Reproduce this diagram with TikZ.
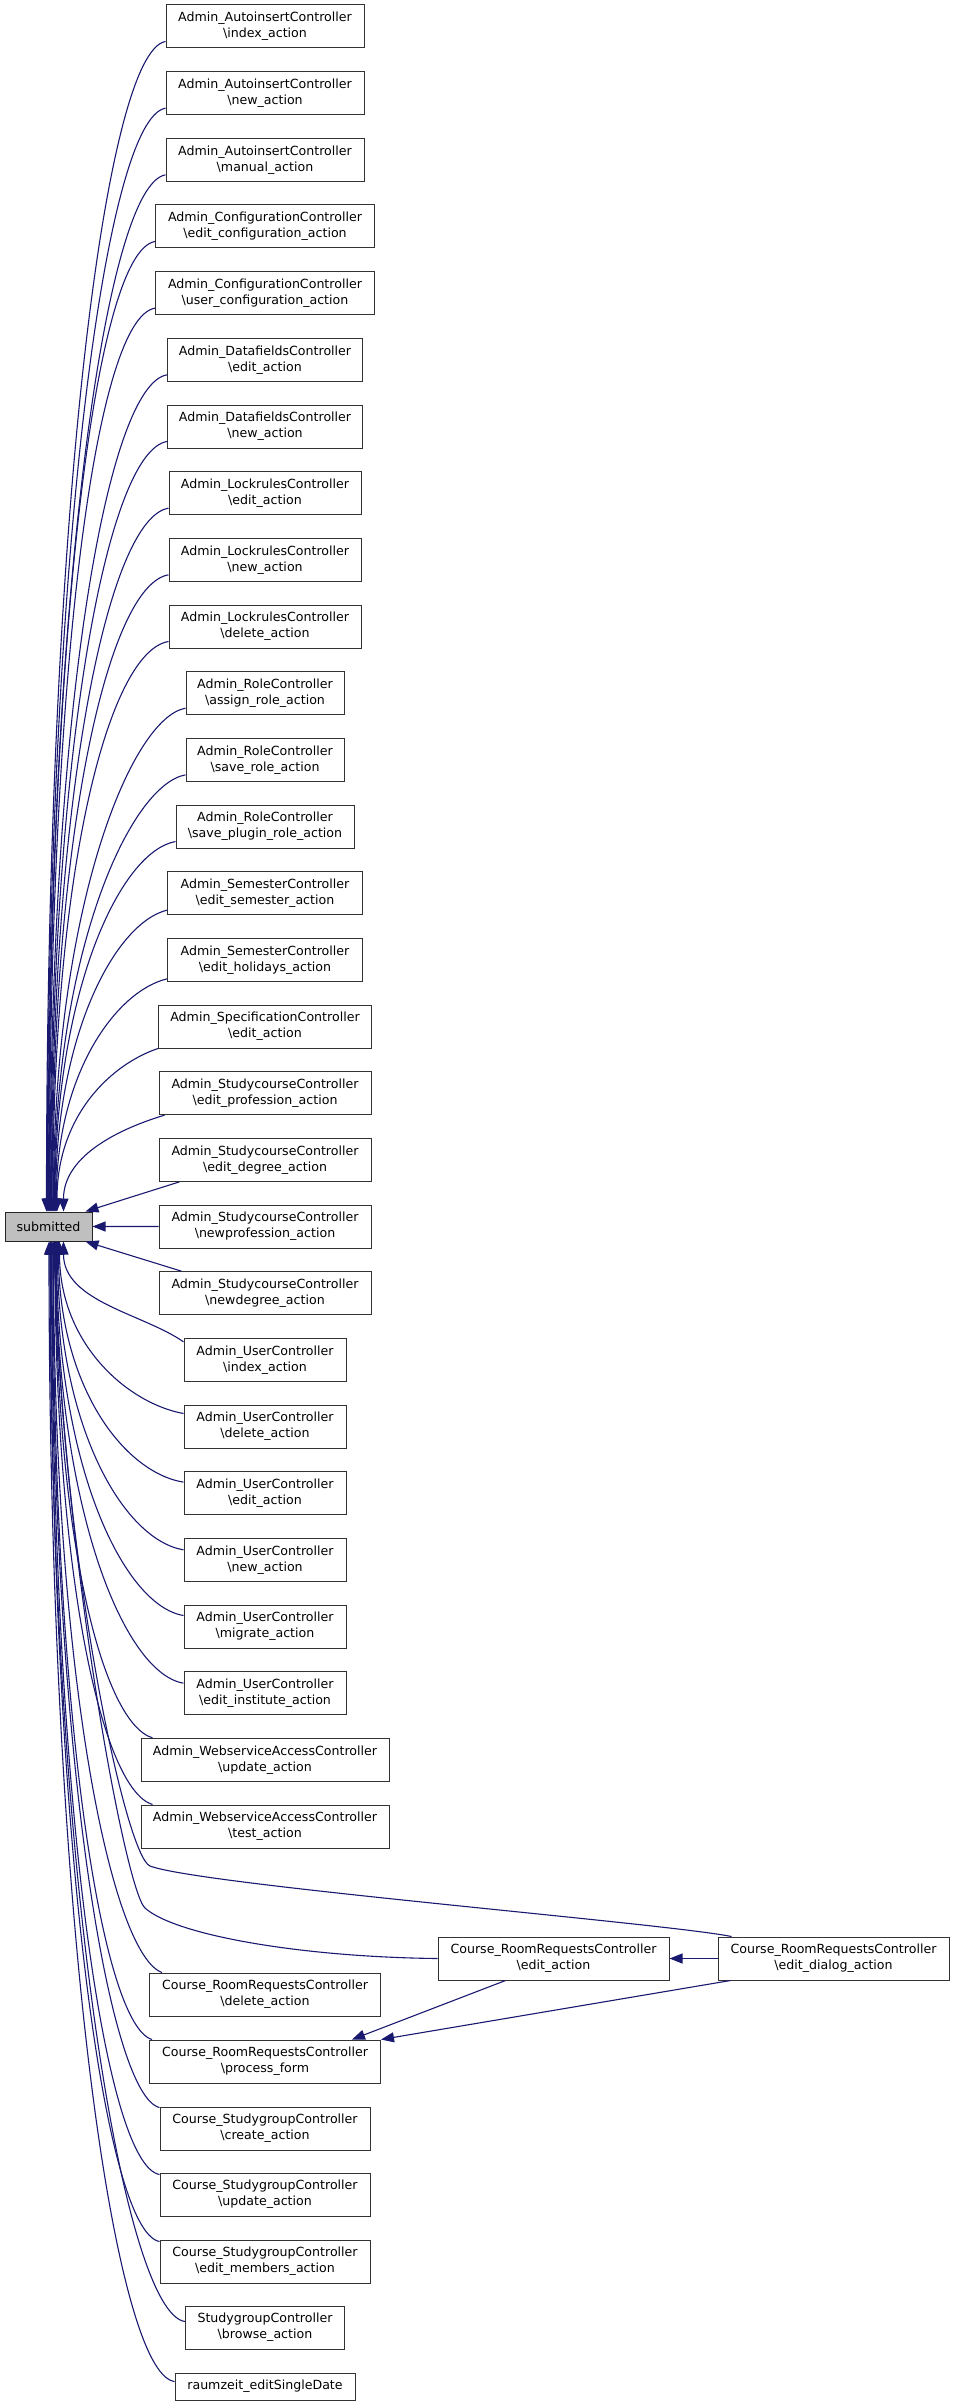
\documentclass[tikz,border=0pt]{standalone}
\usepackage{fontspec}
\setmainfont{DejaVu Sans}
\usetikzlibrary{arrows.meta,calc}
\definecolor{edgecol}{RGB}{25,25,112}
\definecolor{subfill}{RGB}{191,191,191}
\begin{document}
\begin{tikzpicture}[x=1pt,y=-1pt,
  box/.style={draw=black!80, line width=1pt, fill=white, align=center, inner xsep=11pt, inner ysep=0pt, minimum height=43pt, font=\fontsize{12.6}{16}\selectfont},
  edge/.style={draw=edgecol, line width=1.1pt, -{Triangle[length=13pt,width=10pt]}}]
\useasboundingbox (0,0) rectangle (955,2405);

\node[box, minimum height=29pt, minimum width=87pt, fill=subfill, draw=black!85] (sub) at (48.5,1226.5) {submitted};

\foreach \i/\w/\txt in {
 1/198/{Admin\_AutoinsertController\\\textbackslash index\_action},
 2/198/{Admin\_AutoinsertController\\\textbackslash new\_action},
 3/198/{Admin\_AutoinsertController\\\textbackslash manual\_action},
 4/219/{Admin\_ConfigurationController\\\textbackslash edit\_configuration\_action},
 5/219/{Admin\_ConfigurationController\\\textbackslash user\_configuration\_action},
 6/195/{Admin\_DatafieldsController\\\textbackslash edit\_action},
 7/195/{Admin\_DatafieldsController\\\textbackslash new\_action},
 8/192/{Admin\_LockrulesController\\\textbackslash edit\_action},
 9/192/{Admin\_LockrulesController\\\textbackslash new\_action},
 10/192/{Admin\_LockrulesController\\\textbackslash delete\_action},
 11/158/{Admin\_RoleController\\\textbackslash assign\_role\_action},
 12/158/{Admin\_RoleController\\\textbackslash save\_role\_action},
 13/178/{Admin\_RoleController\\\textbackslash save\_plugin\_role\_action},
 14/195/{Admin\_SemesterController\\\textbackslash edit\_semester\_action},
 15/195/{Admin\_SemesterController\\\textbackslash edit\_holidays\_action},
 16/213/{Admin\_SpecificationController\\\textbackslash edit\_action},
 17/212/{Admin\_StudycourseController\\\textbackslash edit\_profession\_action},
 18/212/{Admin\_StudycourseController\\\textbackslash edit\_degree\_action},
 19/212/{Admin\_StudycourseController\\\textbackslash newprofession\_action},
 20/212/{Admin\_StudycourseController\\\textbackslash newdegree\_action},
 21/162/{Admin\_UserController\\\textbackslash index\_action},
 22/162/{Admin\_UserController\\\textbackslash delete\_action},
 23/162/{Admin\_UserController\\\textbackslash edit\_action},
 24/162/{Admin\_UserController\\\textbackslash new\_action},
 25/162/{Admin\_UserController\\\textbackslash migrate\_action},
 26/162/{Admin\_UserController\\\textbackslash edit\_institute\_action},
 27/248/{Admin\_WebserviceAccessController\\\textbackslash update\_action},
 28/248/{Admin\_WebserviceAccessController\\\textbackslash test\_action}}
 \node[box, minimum width=\w] (n\i) at (265,{26.5+66.6667*(\i-1)}) {\txt};

\foreach \i/\w/\y/\txt in {
 31/231/1994.5/{Course\_RoomRequestsController\\\textbackslash delete\_action},
 32/231/2061.5/{Course\_RoomRequestsController\\\textbackslash process\_form},
 33/210/2128.5/{Course\_StudygroupController\\\textbackslash create\_action},
 34/210/2194.5/{Course\_StudygroupController\\\textbackslash update\_action},
 35/210/2261.5/{Course\_StudygroupController\\\textbackslash edit\_members\_action},
 36/159/2327.5/{StudygroupController\\\textbackslash browse\_action}}
 \node[box, minimum width=\w] (n\i) at (265,\y) {\txt};

\node[box, minimum width=180, minimum height=27pt] (n37) at (265,2386.5) {raumzeit\_editSingleDate};

\node[box, minimum width=231] (ea) at (553.5,1958.5) {Course\_RoomRequestsController\\\textbackslash edit\_action};
\node[box, minimum width=231] (ed) at (833.5,1958.5) {Course\_RoomRequestsController\\\textbackslash edit\_dialog\_action};

% callers above submitted
\foreach \i/\sx/\sy/\tx/\cx/\cy in {
 1/0/-7/42/-60/10, 2/0/-7/42.7/-60/10, 3/0/-7/43.4/-60/10, 4/0/-7/44.1/-60/10,
 5/0/-7/44.8/-60/10, 6/0/-7/45.5/-60/10, 7/0/-7/46.2/-60/10, 8/0/-7/46.9/-60/10,
 9/0/-7/47.6/-60/10, 10/0/-7/48.3/-60/10, 11/0/-7/49/-55/10, 12/0/-7/49.7/-55/10,
 13/0/-7/50.4/-55/10, 14/0/-5/51.1/-50/12, 15/0/-3/51.8/-50/12, 16/0/0/52.5/-45/15,
 17/6/0/59/-40/12}{
  \path ($(n\i.south west)+(\sx,\sy)$) coordinate (s) ($(sub.north west)+(\tx,0)$) coordinate (e);
  \draw[edge] (s) .. controls +(\cx,\cy) and ($(e)!0.6!(e|-s)$) .. (e);
}
\draw[edge] ($(n18.south west)+(21,0)$) -- ($(sub.north east)+(-7,0)$);
\draw[edge] (n19.west) -- (sub.east);
\draw[edge] ($(n20.north west)+(23,0)$) -- ($(sub.south east)+(-7,0)$);

% callers below submitted
\foreach \i/\sx/\sy/\tx/\cx/\cy in {
 21/0/4/59/-40/-28, 22/0/9/55/-55/-10, 23/0/11/54/-60/-10, 24/0/12/53/-60/-10,
 25/0/11/52/-60/-10, 26/0/12/51.5/-60/-10, 27/12/0/51/-50/-15, 28/12/0/50.5/-50/-15,
 31/13/0/49/-50/-18, 32/3/0/48.5/-50/-15, 33/0/1/47.5/-50/-12, 34/0/2/47/-55/-10,
 35/0/2/46/-55/-10, 36/0/16/45.5/-60/-8, 37/0/9/44.5/-60/-8}{
  \path ($(n\i.north west)+(\sx,\sy)$) coordinate (s) ($(sub.south west)+(\tx,0)$) coordinate (e);
  \draw[edge] (s) .. controls +(\cx,\cy) and ($(e)!0.6!(e|-s)$) .. (e);
}

% Course_RoomRequestsController edges
\draw[edge] ($(ed.north west)+(14,0)$) .. controls (665,1923) and (200,1885) .. (150,1866) .. controls (125,1856) and (60,1550) .. ($(sub.south west)+(50,0)$);
\draw[edge] (ea.west) .. controls (300,1957) and (175,1935) .. (145,1908) .. controls (125,1890) and (62,1550) .. ($(sub.south west)+(49.5,0)$);
\draw[edge] (ed.west) -- (ea.east);
\draw[edge] ($(ea.south west)+(68,0)$) -- ($(n32.north east)+(-29,0)$);
\draw[edge] ($(ed.south west)+(13,0)$) -- (n32.north east);
\end{tikzpicture}
\end{document}
